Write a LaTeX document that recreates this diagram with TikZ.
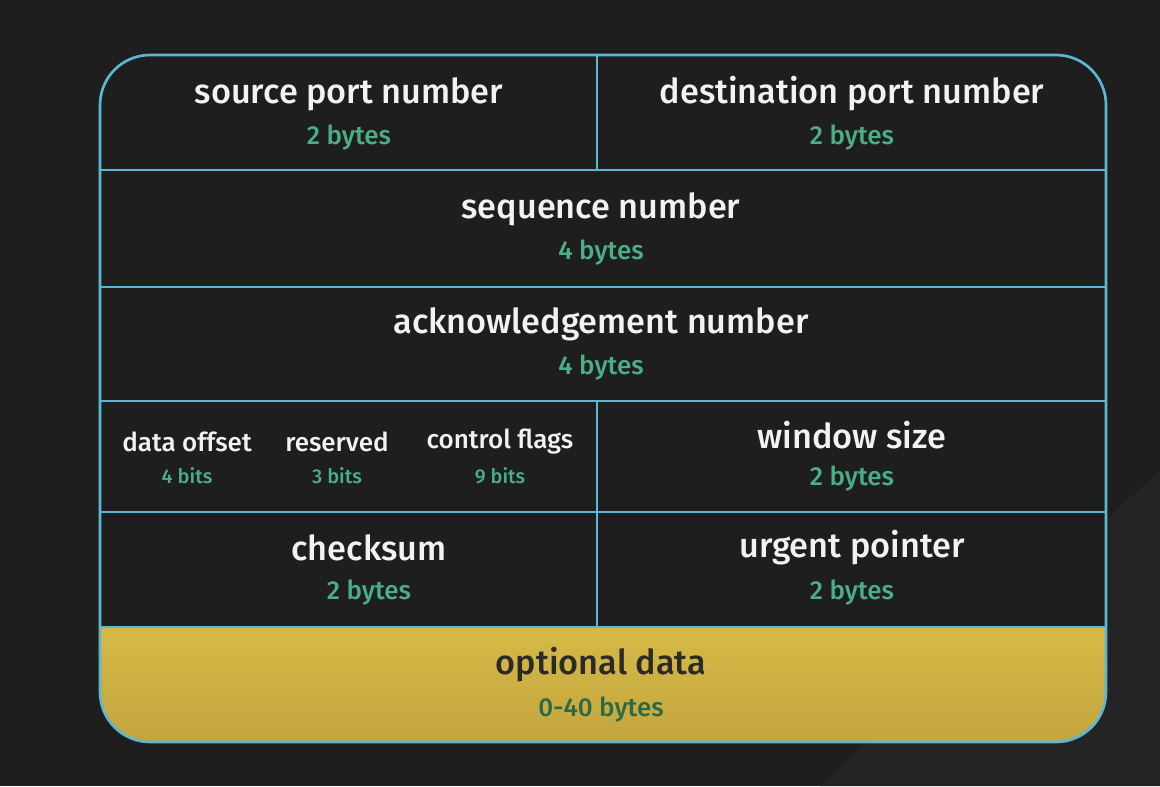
\documentclass[tikz,border=0pt]{standalone}
\usepackage{fontspec}
\setmainfont{Fira Sans Medium}
\definecolor{bg}{HTML}{1F1E1F}
\definecolor{bgl}{HTML}{242424}
\definecolor{edge}{HTML}{5BB8D4}
\definecolor{titlec}{HTML}{F2F2F2}
\definecolor{sizec}{HTML}{4AAE86}
\definecolor{yelT}{HTML}{D6BA46}
\definecolor{yelB}{HTML}{C3A53F}
\definecolor{darktext}{HTML}{2A2A28}
\definecolor{darkgreen}{HTML}{2C6A47}
\tikzset{
  field/.style={text=titlec, font=\fontsize{25.7}{28}\selectfont},
  size/.style={text=sizec, font=\fontsize{19.5}{22}\selectfont},
  smallfield/.style={text=titlec, font=\fontsize{19.5}{22}\selectfont},
  smallsize/.style={text=sizec, font=\fontsize{15}{17}\selectfont},
  divider/.style={draw=edge, line width=2pt},
}
\begin{document}
\begin{tikzpicture}[x=0.75pt,y=-0.75pt]
\useasboundingbox (0,0) rectangle (1160,786);
\fill[bg] (0,0) rectangle (1160,786);
\fill[bgl] (1160,470) -- (820,786) -- (1160,786) -- cycle;
% yellow optional area
\begin{scope}
  \clip[rounded corners=37.5pt] (100,55) rectangle (1106,742);
  \fill[bg] (100,55) rectangle (1106,742);
  \shade[top color=yelT, bottom color=yelB] (100,627) rectangle (1106,742);
\end{scope}
% grid lines
\draw[divider] (100,170) -- (1106,170);
\draw[divider] (100,287) -- (1106,287);
\draw[divider] (100,401) -- (1106,401);
\draw[divider] (100,512) -- (1106,512);
\draw[divider] (100,627) -- (1106,627);
\draw[divider] (597,55) -- (597,170);
\draw[divider] (597,401) -- (597,627);
\draw[divider, rounded corners=37.5pt] (100,55) rectangle (1106,742);
% texts
\node[field] (srcport) at (349,94) {source port number};
\node[size] (srcsize) at (349,138) {2 bytes};
\node[field] (dstport) at (852,94) {destination port number};
\node[size] (dstsize) at (852,138) {2 bytes};
\node[field] (seq) at (601,209) {sequence number};
\node[size] (seqsize) at (601,253) {4 bytes};
\node[field] (ack) at (601,324) {acknowledgement number};
\node[size] (acksize) at (601,368) {4 bytes};
\node[smallfield] (doff) at (187,442) {data offset};
\node[smallsize] (doffsize) at (187,476) {4 bits};
\node[smallfield] (resv) at (337,442) {reserved};
\node[smallsize] (resvsize) at (337,476) {3 bits};
\node[smallfield] (flags) at (500,442) {control flags};
\node[smallsize] (flagssize) at (500,476) {9 bits};
\node[field] (win) at (852,435) {window size};
\node[size] (winsize) at (852,479) {2 bytes};
\node[field] (chk) at (369,548) {checksum};
\node[size] (chksize) at (369,593) {2 bytes};
\node[field] (urg) at (852,548) {urgent pointer};
\node[size] (urgsize) at (852,593) {2 bytes};
\node[field, text=darktext] (opt) at (601,665) {optional data};
\node[size, text=darkgreen] (optsize) at (601,710) {0-40 bytes};
\end{tikzpicture}
\end{document}
